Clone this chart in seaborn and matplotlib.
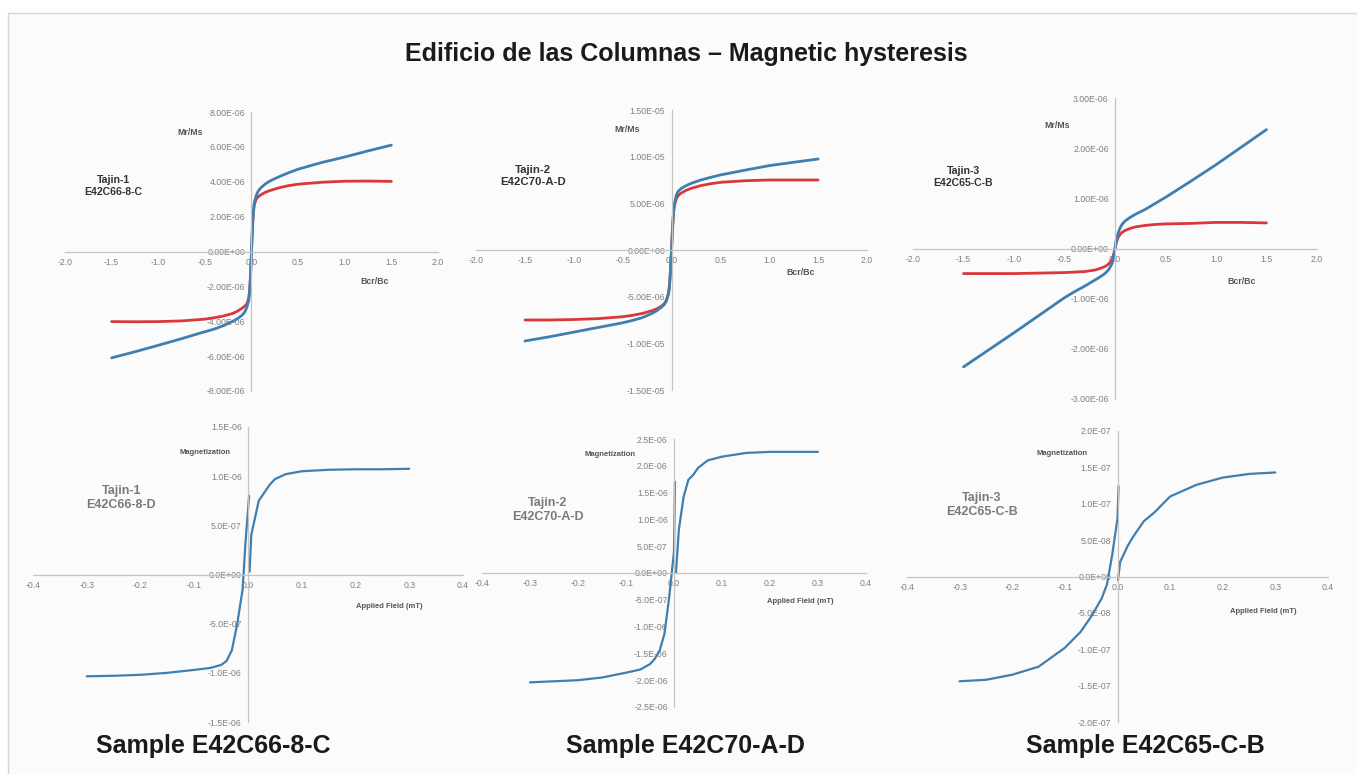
import numpy as np
import pandas as pd
import seaborn as sns
import matplotlib.pyplot as plt
from matplotlib.ticker import MultipleLocator, FuncFormatter
from matplotlib.patches import Rectangle

### data ###

# top row: Mr/Ms vs Bcr/Bc, shared x grid (values in 1e-6)
hyst_x = [-1.5, -1.25, -1.0, -0.75, -0.5, -0.4, -0.3, -0.2, -0.15, -0.1, -0.07, -0.05, -0.03, -0.02, -0.01,
          0.0,
          0.01, 0.02, 0.03, 0.05, 0.07, 0.1, 0.15, 0.2, 0.3, 0.4, 0.5, 0.75, 1.0, 1.25, 1.5]

t1_blue = [-6.1, -5.75, -5.38, -5.0, -4.6, -4.45, -4.25, -4.0, -3.85, -3.65, -3.45, -3.2, -2.8, -2.3, -1.4,
           0.0,
           1.4, 2.3, 2.8, 3.2, 3.45, 3.65, 3.88, 4.05, 4.3, 4.52, 4.72, 5.1, 5.42, 5.77, 6.1]
t1_red = [-4.02, -4.03, -4.02, -3.98, -3.88, -3.8, -3.7, -3.55, -3.42, -3.25, -3.12, -3.0, -2.7, -2.2, -1.35,
          0.0,
          1.35, 2.2, 2.7, 3.0, 3.13, 3.25, 3.4, 3.5, 3.66, 3.78, 3.86, 3.97, 4.03, 4.04, 4.02]

t2_blue = [-9.75, -9.3, -8.8, -8.3, -7.8, -7.55, -7.25, -6.8, -6.5, -6.1, -5.8, -5.4, -4.7, -3.8, -2.2,
           0.0,
           2.3, 4.0, 5.0, 5.9, 6.3, 6.6, 6.9, 7.14, 7.5, 7.78, 8.04, 8.55, 9.04, 9.4, 9.75]
t2_red = [-7.5, -7.5, -7.45, -7.35, -7.15, -7.0, -6.8, -6.5, -6.3, -6.0, -5.7, -5.3, -4.6, -3.7, -2.1,
          0.0,
          2.2, 3.9, 4.8, 5.5, 5.85, 6.1, 6.4, 6.6, 6.9, 7.1, 7.25, 7.42, 7.5, 7.5, 7.5]

t3_blue = [-2.36, -2.02, -1.68, -1.33, -0.98, -0.86, -0.75, -0.63, -0.57, -0.5, -0.44, -0.38, -0.3, -0.24, -0.14,
           0.0,
           0.15, 0.22, 0.3, 0.41, 0.48, 0.55, 0.62, 0.68, 0.78, 0.9, 1.02, 1.34, 1.67, 2.02, 2.37]
t3_red = [-0.5, -0.5, -0.5, -0.49, -0.48, -0.47, -0.46, -0.43, -0.4, -0.36, -0.32, -0.28, -0.22, -0.16, -0.09,
          0.0,
          0.09, 0.16, 0.22, 0.28, 0.32, 0.36, 0.4, 0.43, 0.46, 0.48, 0.49, 0.5, 0.52, 0.52, 0.51]

# bottom row: magnetization vs applied field, two segments each
b1_left_x = [-0.3, -0.25, -0.2, -0.15, -0.1, -0.07, -0.05, -0.04, -0.03, -0.02, -0.01, -0.005, 0.002]
b1_left_y = [-1.035, -1.03, -1.02, -1.0, -0.97, -0.95, -0.92, -0.88, -0.77, -0.5, -0.15, 0.3, 0.8]   # 1e-6
b1_right_x = [0.003, 0.006, 0.01, 0.02, 0.03, 0.04, 0.05, 0.07, 0.1, 0.15, 0.2, 0.25, 0.3]
b1_right_y = [0.03, 0.4, 0.5, 0.75, 0.83, 0.91, 0.97, 1.02, 1.05, 1.065, 1.07, 1.07, 1.075]

b2_left_x = [-0.3, -0.25, -0.2, -0.15, -0.1, -0.07, -0.05, -0.04, -0.03, -0.02, -0.01, 0.0, 0.002]
b2_left_y = [-2.04, -2.02, -2.0, -1.95, -1.86, -1.8, -1.7, -1.6, -1.45, -1.14, -0.45, 0.4, 1.7]   # 1e-6
b2_right_x = [0.004, 0.01, 0.02, 0.03, 0.04, 0.05, 0.07, 0.1, 0.15, 0.2, 0.25, 0.3]
b2_right_y = [0.0, 0.8, 1.42, 1.74, 1.83, 1.96, 2.1, 2.17, 2.24, 2.26, 2.26, 2.26]

b3_left_x = [-0.3, -0.25, -0.2, -0.15, -0.1, -0.07, -0.05, -0.03, -0.02, -0.01, 0.0, 0.002]
b3_left_y = [-1.44, -1.42, -1.35, -1.24, -0.98, -0.76, -0.55, -0.3, -0.11, 0.3, 0.8, 1.24]   # 1e-7
b3_right_x = [0.001, 0.005, 0.02, 0.03, 0.05, 0.07, 0.1, 0.15, 0.2, 0.25, 0.3]
b3_right_y = [-0.05, 0.2, 0.43, 0.55, 0.76, 0.88, 1.1, 1.26, 1.36, 1.41, 1.43]

top_ids = ["Tajin-1\nE42C66-8-C", "Tajin-2\nE42C70-A-D", "Tajin-3\nE42C65-C-B"]
bottom_ids = ["Tajin-1\nE42C66-8-D", "Tajin-2\nE42C70-A-D", "Tajin-3\nE42C65-C-B"]
sample_names = ["Sample E42C66-8-C", "Sample E42C70-A-D", "Sample E42C65-C-B"]
title = "Edificio de las Columnas \u2013 Magnetic hysteresis"

BLUE = "#3f7fb0"
RED = "#d9383a"
AXC = "#c4c4c4"
TXT = "#808080"

#################

sns.set_style("white")
plt.rcParams['font.family'] = ['Liberation Sans', 'DejaVu Sans']

fig = plt.figure(figsize=(13.57, 7.74), dpi=100)
fig.patch.set_facecolor("white")
frame = Rectangle((8 / 1357, -0.01), 1.0, 1 - 13 / 774 + 0.01, transform=fig.transFigure,
                  facecolor="#fbfbfb", edgecolor="#d6d6d6", linewidth=1.0, zorder=-5)
fig.patches.append(frame)


def px_axes(l, t, r, b):
    return fig.add_axes([l / 1357, 1 - b / 774, (r - l) / 1357, (b - t) / 774])


def style_axes(ax, xlim, ylim, xmaj, xmin, ymaj, ymin, xfmt, yfmt):
    ax.set_facecolor("none")
    ax.set_xlim(*xlim)
    ax.set_ylim(*ylim)
    for s in ["top", "right"]:
        ax.spines[s].set_visible(False)
    for s in ["left", "bottom"]:
        ax.spines[s].set_position("zero")
        ax.spines[s].set_color(AXC)
        ax.spines[s].set_linewidth(0.9)
    ax.xaxis.set_major_locator(MultipleLocator(xmaj))
    ax.xaxis.set_minor_locator(MultipleLocator(xmin))
    ax.yaxis.set_major_locator(MultipleLocator(ymaj))
    ax.yaxis.set_minor_locator(MultipleLocator(ymin))
    ax.xaxis.set_major_formatter(FuncFormatter(lambda v, p: xfmt.format(0.0 if abs(v) < 1e-12 else v)))
    ax.yaxis.set_major_formatter(FuncFormatter(lambda v, p: yfmt.format(0.0 if abs(v) < ymaj * 1e-6 else v)))
    ax.tick_params(which="major", direction="inout", length=5, width=0.8, color=AXC,
                   labelsize=6.3, labelcolor=TXT, pad=2)
    ax.tick_params(which="minor", direction="inout", length=3, width=0.6, color=AXC)
    ax.set_xlabel("")
    ax.set_ylabel("")


# top row
top_boxes = [(65, 112, 438, 391), (476, 110, 867, 390), (913, 98, 1317, 399)]
top_data = [(t1_blue, t1_red, 8e-6, 2e-6), (t2_blue, t2_red, 1.5e-5, 5e-6), (t3_blue, t3_red, 3e-6, 1e-6)]
top_ylab = [(0.335, 0.925), (0.386, 0.929), (0.356, 0.907)]
top_xlab = [(0.831, 0.391), (0.829, 0.421), (0.814, 0.392)]
top_id = [(0.129, 0.735), (0.146, 0.764), (0.124, 0.738)]
top_id_size = [7.6, 8.2, 7.6]

for i in range(3):
    ax = px_axes(*top_boxes[i])
    blue, red, ymax, ystep = top_data[i]
    df = pd.DataFrame({
        "x": hyst_x + hyst_x,
        "y": [v * 1e-6 for v in red] + [v * 1e-6 for v in blue],
        "curve": ["red"] * len(red) + ["blue"] * len(blue),
    })
    sns.lineplot(data=df, x="x", y="y", hue="curve", palette={"blue": BLUE, "red": RED},
                 estimator=None, sort=False, linewidth=2.0, legend=False, ax=ax)
    style_axes(ax, (-2, 2), (-ymax, ymax), 0.5, 0.1, ystep, ystep / 4, "{:.1f}", "{:.2E}")
    ax.text(*top_ylab[i], "Mr/Ms", transform=ax.transAxes, ha="center", va="center",
            fontsize=6.3, fontweight="bold", color="#555555")
    ax.text(*top_xlab[i], "Bcr/Bc", transform=ax.transAxes, ha="center", va="center",
            fontsize=6.3, fontweight="bold", color="#555555")
    ax.text(*top_id[i], top_ids[i], transform=ax.transAxes, ha="center", va="center",
            fontsize=top_id_size[i], fontweight="bold", color="#333333", linespacing=1.3)

# bottom row
bot_boxes = [(33, 427, 463, 722), (482, 439, 866, 707), (907, 431, 1328, 722)]
bot_data = [
    (b1_left_x, b1_left_y, b1_right_x, b1_right_y, 1e-6, 1.5e-6, 5e-7),
    (b2_left_x, b2_left_y, b2_right_x, b2_right_y, 1e-6, 2.5e-6, 5e-7),
    (b3_left_x, b3_left_y, b3_right_x, b3_right_y, 1e-7, 2e-7, 5e-8),
]
bot_ylab = [(0.40, 0.915), (0.333, 0.944), (0.368, 0.924)]
bot_xlab = [(0.828, 0.393), (0.828, 0.392), (0.846, 0.381)]
bot_id = [(0.205, 0.759), (0.172, 0.735), (0.178, 0.746)]

for i in range(3):
    ax = px_axes(*bot_boxes[i])
    lx, ly, rx, ry, unit, ymax, ystep = bot_data[i]
    df = pd.DataFrame({
        "x": lx + rx,
        "y": [v * unit for v in ly] + [v * unit for v in ry],
        "seg": [0] * len(lx) + [1] * len(rx),
    })
    sns.lineplot(data=df, x="x", y="y", units="seg", estimator=None, sort=False,
                 color=BLUE, linewidth=1.6, ax=ax)
    style_axes(ax, (-0.4, 0.4), (-ymax, ymax), 0.1, 0.02, ystep, ystep / 5, "{:.1f}", "{:.1E}")
    ax.text(*bot_ylab[i], "Magnetization", transform=ax.transAxes, ha="center", va="center",
            fontsize=5.5, fontweight="bold", color="#555555")
    ax.text(*bot_xlab[i], "Applied Field (mT)", transform=ax.transAxes, ha="center", va="center",
            fontsize=5.5, fontweight="bold", color="#555555")
    ax.text(*bot_id[i], bottom_ids[i], transform=ax.transAxes, ha="center", va="center",
            fontsize=9, fontweight="bold", color="#7a7a7a", linespacing=1.25)

# titles
fig.text(0.506, 0.930, title, ha="center", va="center", fontsize=18, fontweight="bold", color="#1a1a1a")
for xc, name in zip([0.157, 0.505, 0.844], sample_names):
    fig.text(xc, 0.036, name, ha="center", va="center", fontsize=18, fontweight="bold", color="#1a1a1a")

fig.savefig("out.png", dpi=100)
